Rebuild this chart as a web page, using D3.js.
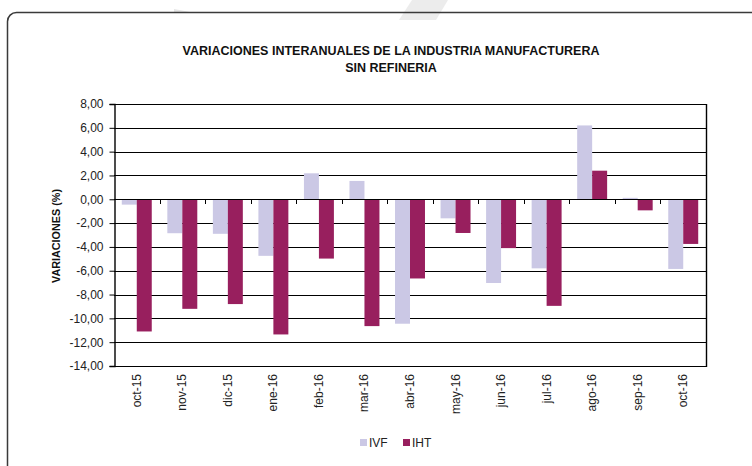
<!DOCTYPE html>
<html>
<head>
<meta charset="utf-8">
<script src="https://cdn.jsdelivr.net/npm/d3@7"></script>
<style>
  body { margin: 0; background: #fff; }
  svg { display: block; font-family: "Liberation Sans", Arial, sans-serif; }
</style>
</head>
<body>
<script>
const w = 752;
const h = 466;

// data
const months = ["oct-15", "nov-15", "dic-15", "ene-16", "feb-16", "mar-16", "abr-16",
  "may-16", "jun-16", "jul-16", "ago-16", "sep-16", "oct-16"];
const ivf = [-0.45, -2.85, -2.9, -4.75, 2.18, 1.54, -10.45, -1.6, -7.03, -5.8, 6.2, 0.12, -5.85];
const iht = [-11.1, -9.2, -8.8, -11.35, -4.98, -10.65, -6.65, -2.83, -4.1, -8.95, 2.4, -0.93, -3.75];
const seriesNames = ["IVF", "IHT"];
const yTicks = [8, 6, 4, 2, 0, -2, -4, -6, -8, -10, -12, -14];
const colors = { IVF: "#cbc8e5", IHT: "#981f5e" };

const svg = d3.select("body").append("svg").attr("width", w).attr("height", h);

// faint watermark strokes at the top
svg.append("path").attr("d", "M412,0 L448,0 L436,20 L399,20 Z").attr("fill", "#ececec");
svg.append("path").attr("d", "M174,9 L190,12 L174,12 Z").attr("fill", "#e6e6e6");

// outer rounded frame (cut off right and bottom)
svg.append("rect")
  .attr("x", 7.5).attr("y", 12.5)
  .attr("width", 780).attr("height", 500)
  .attr("rx", 9)
  .attr("fill", "none")
  .attr("stroke", "#3a3a3a")
  .attr("stroke-width", 1.5);

/* Title */
const title = svg.append("text")
  .attr("text-anchor", "middle")
  .attr("font-weight", "bold")
  .attr("font-size", 12.5)
  .attr("fill", "#111");
title.append("tspan").attr("x", 391).attr("y", 55).text("VARIACIONES INTERANUALES DE LA INDUSTRIA MANUFACTURERA");
title.append("tspan").attr("x", 391).attr("y", 72).text("SIN REFINERIA");

/* Scales */
const plotLeft = 114, plotRight = 706, plotTop = 104, plotBottom = 366;

const x0 = d3.scaleBand().domain(months).range([plotLeft, plotRight]).paddingInner(0).paddingOuter(0);
const x1 = d3.scaleBand().domain(seriesNames).range([0, x0.bandwidth()]).paddingInner(0).paddingOuter(0.52);
const y = d3.scaleLinear().domain([-14, 8]).range([plotBottom, plotTop]);

/* Gridlines */
svg.append("g")
  .selectAll("line")
  .data(yTicks)
  .enter()
  .append("line")
  .attr("x1", plotLeft).attr("x2", plotRight)
  .attr("y1", (d) => Math.round(y(d)) + 0.5)
  .attr("y2", (d) => Math.round(y(d)) + 0.5)
  .attr("stroke", "#000")
  .attr("stroke-width", 1.2);

// right border
svg.append("line")
  .attr("x1", plotRight + 0.5).attr("x2", plotRight + 0.5)
  .attr("y1", plotTop).attr("y2", plotBottom + 1)
  .attr("stroke", "#000").attr("stroke-width", 1.4);

/* Bars */
const rows = months.map((m, i) => ({ month: m, IVF: ivf[i], IHT: iht[i] }));

svg.append("g")
  .selectAll("g")
  .data(rows)
  .enter()
  .append("g")
  .attr("transform", (d) => `translate(${x0(d.month)},0)`)
  .selectAll("rect")
  .data((d) => seriesNames.map((k) => ({ key: k, value: d[k] })))
  .enter()
  .append("rect")
  .attr("x", (d) => x1(d.key))
  .attr("width", x1.bandwidth())
  .attr("y", (d) => y(Math.max(0, d.value)))
  .attr("height", (d) => Math.abs(y(d.value) - y(0)))
  .attr("fill", (d) => colors[d.key]);

/* Zero line and category ticks */
svg.append("line")
  .attr("x1", plotLeft).attr("x2", plotRight)
  .attr("y1", Math.round(y(0)) + 0.5).attr("y2", Math.round(y(0)) + 0.5)
  .attr("stroke", "#000").attr("stroke-width", 1.2);

svg.append("g")
  .selectAll("line")
  .data(months.slice(1))
  .enter()
  .append("line")
  .attr("x1", (d) => Math.round(x0(d)) + 0.5)
  .attr("x2", (d) => Math.round(x0(d)) + 0.5)
  .attr("y1", Math.round(y(0)))
  .attr("y2", Math.round(y(0)) + 5)
  .attr("stroke", "#000");

/* Y axis */
const yAxis = d3.axisLeft(y)
  .tickValues(yTicks)
  .tickSize(5)
  .tickPadding(6)
  .tickFormat((d) => d3.format(".2f")(d).replace(".", ",").replace("−", "-"));

const gy = svg.append("g")
  .attr("transform", `translate(${plotLeft + 0.5},0)`)
  .call(yAxis);
gy.select(".domain").attr("stroke", "#000").attr("stroke-width", 1.4);
gy.selectAll(".tick line").attr("stroke", "#000");
gy.selectAll(".tick text")
  .attr("font-size", 12)
  .attr("font-family", "Liberation Sans, Arial, sans-serif")
  .attr("fill", "#222");

svg.append("text")
  .attr("transform", "translate(60,236) rotate(-90)")
  .attr("text-anchor", "middle")
  .attr("font-weight", "bold")
  .attr("font-size", 10.8)
  .attr("fill", "#111")
  .text("VARIACIONES (%)");

/* X labels */
svg.append("g")
  .selectAll("text")
  .data(months)
  .enter()
  .append("text")
  .attr("transform", (d) => `translate(${x0(d) + x0.bandwidth() / 2 + 4},${plotBottom + 8}) rotate(-90)`)
  .attr("text-anchor", "end")
  .attr("font-size", 12)
  .attr("fill", "#222")
  .text((d) => d);

/* Legend */
const legendX = [360, 403];
const legend = svg.append("g")
  .selectAll("g")
  .data(seriesNames)
  .enter()
  .append("g")
  .attr("transform", (d, i) => `translate(${legendX[i]},439)`);
legend.append("rect")
  .attr("width", 7).attr("height", 7)
  .attr("fill", (d) => colors[d]);
legend.append("text")
  .attr("x", 9).attr("y", 7.5)
  .attr("font-size", 12)
  .attr("fill", "#222")
  .text((d) => d);
</script>
</body>
</html>
